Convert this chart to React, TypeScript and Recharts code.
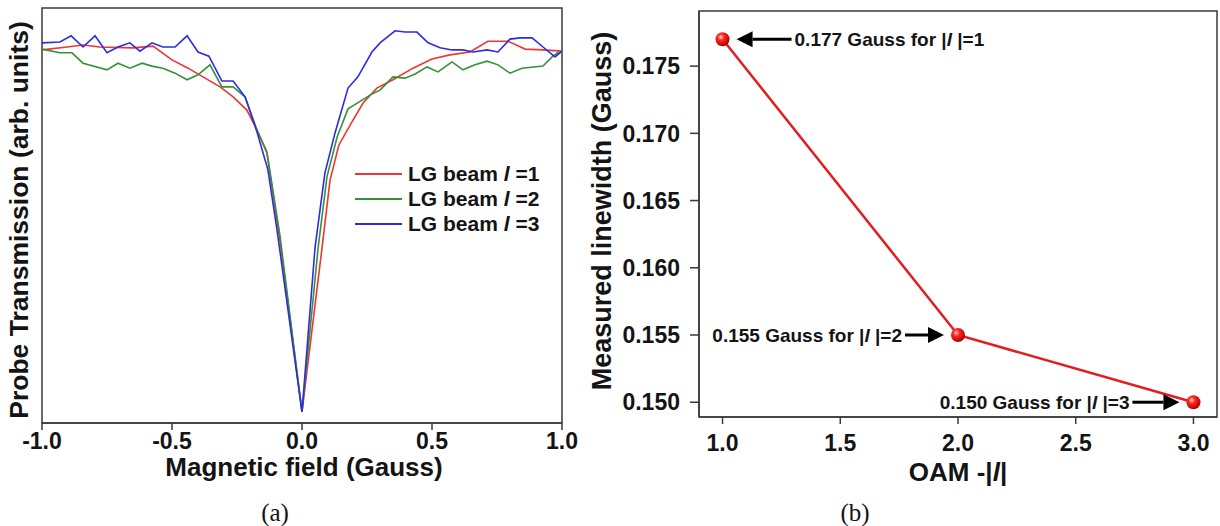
import React from 'react'
import { LineChart, Line, XAxis, YAxis, ReferenceArea, ReferenceDot, Legend } from 'recharts'

const FONT = '"Liberation Sans", Arial, Helvetica, sans-serif'
const INK = '#141414'
const FRAME = '#3a3a3a'

// (a) probe transmission vs magnetic field for LG beams of order l = 1, 2, 3
const L1_FIELD = [-1.0, -0.904, -0.842, -0.777, -0.65, -0.573, -0.5, -0.438, -0.381, -0.315, -0.265, -0.212, -0.173, -0.135, -0.085, 0.0, 0.077, 0.108, 0.142, 0.185, 0.235, 0.288, 0.35, 0.427, 0.5, 0.569, 0.646, 0.715, 0.792, 0.858, 0.927, 1.0]
const L1_SIGNAL = [0.899, 0.906, 0.911, 0.906, 0.904, 0.908, 0.875, 0.855, 0.834, 0.81, 0.786, 0.754, 0.706, 0.651, 0.441, 0.027, 0.422, 0.586, 0.67, 0.718, 0.771, 0.807, 0.827, 0.855, 0.877, 0.887, 0.894, 0.92, 0.92, 0.901, 0.899, 0.896]

const L2_FIELD = [-1.0, -0.931, -0.885, -0.842, -0.75, -0.708, -0.662, -0.615, -0.577, -0.535, -0.488, -0.442, -0.4, -0.354, -0.308, -0.265, -0.219, -0.173, -0.135, -0.085, 0.0, 0.062, 0.096, 0.135, 0.177, 0.231, 0.269, 0.3, 0.35, 0.396, 0.435, 0.481, 0.523, 0.577, 0.619, 0.665, 0.712, 0.754, 0.8, 0.846, 0.927, 0.962, 0.988]
const L2_SIGNAL = [0.901, 0.892, 0.892, 0.867, 0.851, 0.867, 0.855, 0.867, 0.86, 0.855, 0.843, 0.827, 0.839, 0.863, 0.81, 0.81, 0.786, 0.706, 0.653, 0.453, 0.027, 0.422, 0.593, 0.689, 0.757, 0.778, 0.793, 0.802, 0.834, 0.831, 0.841, 0.858, 0.846, 0.87, 0.851, 0.863, 0.872, 0.863, 0.843, 0.855, 0.86, 0.882, 0.894]

const L3_FIELD = [-1.0, -0.931, -0.888, -0.842, -0.796, -0.75, -0.708, -0.662, -0.623, -0.577, -0.535, -0.488, -0.442, -0.4, -0.358, -0.308, -0.265, -0.219, -0.173, -0.131, -0.096, 0.0, 0.05, 0.088, 0.127, 0.177, 0.215, 0.269, 0.3, 0.358, 0.396, 0.442, 0.485, 0.531, 0.577, 0.619, 0.658, 0.712, 0.754, 0.8, 0.838, 0.885, 0.927, 0.973, 1.0]
const L3_SIGNAL = [0.916, 0.918, 0.933, 0.906, 0.933, 0.892, 0.906, 0.916, 0.896, 0.916, 0.906, 0.906, 0.933, 0.894, 0.884, 0.824, 0.824, 0.786, 0.701, 0.61, 0.465, 0.027, 0.422, 0.602, 0.699, 0.807, 0.834, 0.894, 0.916, 0.945, 0.942, 0.942, 0.916, 0.904, 0.899, 0.899, 0.894, 0.899, 0.894, 0.925, 0.928, 0.928, 0.906, 0.882, 0.896]

const FIELD_TICKS = [-1, -0.5, 0, 0.5, 1]

// (b) measured linewidth vs |l|
const OAM_ORDERS = [1, 2, 3]
const LINEWIDTHS = [0.177, 0.155, 0.15]
const OAM_TICKS = [1, 1.5, 2, 2.5, 3]
const WIDTH_TICKS = [0.15, 0.155, 0.16, 0.165, 0.17, 0.175]

const zip = (xs: number[], ys: number[]) => xs.map((x, i) => ({ x, y: ys[i] }))

const TRACES = [
  { order: 1, color: '#ee3535', data: zip(L1_FIELD, L1_SIGNAL) },
  { order: 2, color: '#379237', data: zip(L2_FIELD, L2_SIGNAL) },
  { order: 3, color: '#2c2ce2', data: zip(L3_FIELD, L3_SIGNAL) },
]

const WIDTH_DATA = OAM_ORDERS.map((oam, i) => ({ oam, width: LINEWIDTHS[i] }))

// where each value note sits relative to its point: side of the text, arrow length
const NOTE_LAYOUT = [
  { side: 'right', gap: 58 },
  { side: 'left', gap: 42 },
  { side: 'left', gap: 50 },
]

const tickStyle = { fill: INK, fontSize: 23, fontWeight: 700, fontFamily: FONT }

function Caption({ x, y, size, rotate, serif, children }: any) {
  return (
    <div
      style={{
        position: 'absolute',
        left: x,
        top: y,
        transform: `translate(-50%, -50%)${rotate ? ' rotate(-90deg)' : ''}`,
        whiteSpace: 'nowrap',
        fontFamily: serif ? '"Liberation Serif", "Times New Roman", serif' : FONT,
        fontWeight: serif ? 400 : 700,
        fontSize: size,
        color: INK,
        lineHeight: 1,
      }}
    >
      {children}
    </div>
  )
}

function TraceLegend() {
  return (
    <div style={{ fontFamily: FONT, fontWeight: 700, fontSize: 21, color: INK }}>
      {TRACES.map((t) => (
        <div key={t.order} style={{ display: 'flex', alignItems: 'center', height: 25 }}>
          <span style={{ display: 'inline-block', width: 47, height: 2, background: t.color, marginRight: 6 }} />
          <span>
            LG beam <i>l</i> ={t.order}
          </span>
        </div>
      ))}
    </div>
  )
}

function Ball(p: any) {
  return <circle key={`ball-${p.index}`} cx={p.cx} cy={p.cy} r={7} fill="url(#ball)" />
}

function Note({ cx, cy, value, order, side, gap }: any) {
  const dir = side === 'right' ? 1 : -1
  const tip = cx + dir * 14
  const headEnd = tip + dir * 16
  const tail = tip + dir * (gap - 3)
  const textX = tip + dir * gap
  return (
    <g>
      <line x1={headEnd} y1={cy} x2={tail} y2={cy} stroke="#000" strokeWidth={3} />
      <polygon points={`${tip},${cy} ${headEnd},${cy - 8} ${headEnd},${cy + 8}`} fill="#000" />
      <text
        x={textX}
        y={cy}
        dy="0.36em"
        textAnchor={side === 'right' ? 'start' : 'end'}
        fontFamily={FONT}
        fontWeight={700}
        fontSize={19}
        fill={INK}
      >
        {value.toFixed(3)} Gauss for |<tspan fontStyle="italic">l</tspan> |={order}
      </text>
    </g>
  )
}

export default function App() {
  return (
    <div style={{ position: 'absolute', left: 0, top: 0, width: 1220, height: 526, background: '#fff' }}>
      <div style={{ position: 'absolute', left: 0, top: 0 }}>
        <LineChart width={580} height={526} margin={{ top: 8, right: 18, bottom: 73, left: 42 }}>
          <XAxis
            type="number"
            dataKey="x"
            domain={[-1, 1]}
            ticks={FIELD_TICKS}
            tickFormatter={(v: number) => v.toFixed(1)}
            tick={tickStyle}
            tickSize={7}
            tickMargin={3}
            stroke={FRAME}
            strokeWidth={1.5}
            height={30}
            allowDataOverflow
          />
          <YAxis hide type="number" domain={[0, 1]} allowDataOverflow />
          <ReferenceArea x1={-1} x2={1} y1={0} y2={1} fill="none" stroke={FRAME} strokeWidth={1.5} />
          {TRACES.map((t) => (
            <Line
              key={t.order}
              data={t.data}
              dataKey="y"
              type="linear"
              stroke={t.color}
              strokeWidth={1.6}
              dot={false}
              isAnimationActive={false}
            />
          ))}
          <Legend
            layout="vertical"
            align="center"
            verticalAlign="middle"
            content={() => <TraceLegend />}
            wrapperStyle={{ left: 355, top: 161, width: 'auto', height: 'auto' }}
          />
        </LineChart>
      </div>

      <div style={{ position: 'absolute', left: 580, top: 0 }}>
        <LineChart width={640} height={526} data={WIDTH_DATA} margin={{ top: 11, right: 3, bottom: 79, left: 0 }}>
          <defs>
            <radialGradient id="ball" cx="38%" cy="35%" r="65%">
              <stop offset="0%" stopColor="#ffd6cc" />
              <stop offset="35%" stopColor="#ff2a22" />
              <stop offset="100%" stopColor="#b00000" />
            </radialGradient>
          </defs>
          <XAxis
            type="number"
            dataKey="oam"
            domain={[0.9, 3.1]}
            ticks={OAM_TICKS}
            tickFormatter={(v: number) => v.toFixed(1)}
            tick={tickStyle}
            tickSize={7}
            tickMargin={11}
            stroke={FRAME}
            strokeWidth={1.5}
            height={30}
            allowDataOverflow
          />
          <YAxis
            type="number"
            domain={[0.1489, 0.1791]}
            ticks={WIDTH_TICKS}
            tickFormatter={(v: number) => v.toFixed(3)}
            tick={tickStyle}
            tickSize={9}
            tickMargin={10}
            stroke={FRAME}
            strokeWidth={1.5}
            width={119}
            allowDataOverflow
          />
          <ReferenceArea x1={0.9} x2={3.1} y1={0.1489} y2={0.1791} fill="none" stroke={FRAME} strokeWidth={1.5} />
          <Line
            dataKey="width"
            type="linear"
            stroke="#e11d1d"
            strokeWidth={2.5}
            dot={Ball}
            isAnimationActive={false}
          />
          {WIDTH_DATA.map((d, i) => (
            <ReferenceDot
              key={d.oam}
              x={d.oam}
              y={d.width}
              r={0}
              shape={(p: any) => <Note {...p} value={d.width} order={d.oam} {...NOTE_LAYOUT[i]} />}
            />
          ))}
        </LineChart>
      </div>

      <Caption x={19} y={220} size={26.5} rotate>
        Probe Transmission (arb. units)
      </Caption>
      <Caption x={304} y={467} size={26}>
        Magnetic field (Gauss)
      </Caption>
      <Caption x={275} y={512} size={25} serif>
        (a)
      </Caption>

      <Caption x={602} y={211} size={27} rotate>
        Measured linewidth (Gauss)
      </Caption>
      <Caption x={958} y={472} size={26}>
        OAM -|<i>l</i>|
      </Caption>
      <Caption x={855} y={512} size={25} serif>
        (b)
      </Caption>
    </div>
  )
}
